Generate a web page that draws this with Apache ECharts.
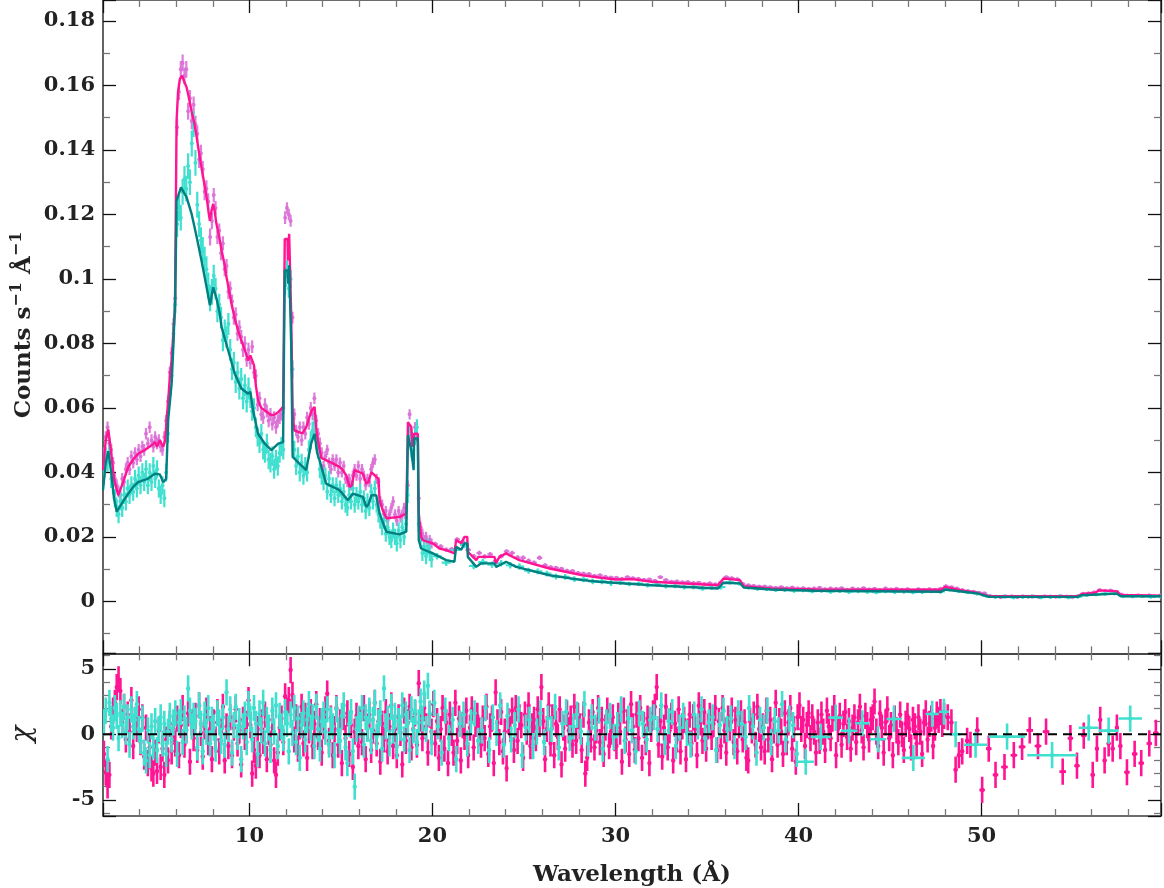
<!DOCTYPE html>
<html>
<head>
<meta charset="utf-8">
<script src="https://cdn.jsdelivr.net/npm/echarts@6/dist/echarts.min.js"></script>
<style>
  html, body { margin: 0; padding: 0; background: #fff; }
  #chart { width: 1164px; height: 888px; }
</style>
</head>
<body>
<div id="chart"></div>
<script>
// ---------------------------------------------------------------
// Spectrum data. Binned segments: [first bin centre (Å), bin width (Å), 1σ error, values]
// ---------------------------------------------------------------
const specPinkSegs = [
  [2.05, 0.1, 0.0018, [0.046,0.051,0.054,0.049,0.047,0.043,0.038,0.036,0.034,0.033,0.038,0.037,0.041,0.043,0.041,0.045,0.043,0.046,0.044,0.047]],
  [4.05, 0.1, 0.0018, [0.045,0.048,0.047,0.052,0.049,0.054,0.050,0.048,0.051,0.049,0.050,0.048,0.047,0.051,0.056,0.062,0.071,0.077,0.086,0.094]],
  [6.05, 0.1, 0.0026, [0.147,0.158,0.165,0.167,0.163,0.165,0.152,0.156,0.149,0.154,0.148,0.145,0.137,0.139,0.134,0.127,0.128,0.124,0.113,0.118]],
  [8.05, 0.1, 0.0022, [0.126,0.122,0.113,0.115,0.108,0.111,0.103,0.104,0.096,0.097,0.093,0.088,0.089,0.083,0.085,0.082,0.078,0.080,0.075,0.078]],
  [10.05, 0.1, 0.0020, [0.074,0.079,0.071,0.070,0.061,0.063,0.058,0.057,0.061,0.059,0.056,0.058,0.055,0.057,0.054,0.056,0.057,0.058,0.060,0.119]],
  [12.05, 0.1, 0.0018, [0.122,0.120,0.118,0.088,0.058,0.053,0.051,0.054,0.050,0.054,0.052,0.057,0.055,0.060,0.058,0.063,0.056,0.052,0.049,0.046]],
  [14.05, 0.1, 0.0016, [0.042,0.045,0.047,0.043,0.041,0.044,0.042,0.044,0.040,0.043,0.040,0.042,0.038,0.037,0.038,0.036,0.039,0.041,0.039,0.042]],
  [16.05, 0.1, 0.0016, [0.038,0.041,0.039,0.036,0.038,0.037,0.041,0.043,0.044,0.038,0.037,0.031,0.030,0.027,0.028,0.025,0.027,0.029,0.031,0.027]],
  [18.05, 0.1, 0.0016, [0.025,0.028,0.026,0.027,0.029,0.026,0.036,0.058,0.052,0.050,0.054,0.051,0.032,0.023,0.021,0.019,0.020,0.018,0.019,0.018]],
  [20.15, 0.3, 0.0007, [0.0178,0.0170,0.0160,0.0162,0.0192,0.0185,0.0160,0.0140,0.0150,0.0139]],
  [23.15, 0.3, 0.0007, [0.0146,0.0125,0.0140,0.0155,0.0150,0.0136,0.0135,0.0126,0.0120,0.0135]],
  [26.15, 0.3, 0.0006, [0.0112,0.0106,0.0104,0.0101,0.0095,0.0094,0.0088,0.0086,0.0085,0.0079]],
  [29.15, 0.3, 0.0005, [0.0081,0.0076,0.0074,0.0073,0.0070,0.0075,0.0072,0.0070,0.0067,0.0068]],
  [32.15, 0.3, 0.0005, [0.0064,0.0075,0.0066,0.0061,0.0062,0.0059,0.0060,0.0057,0.0058,0.0054]],
  [35.15, 0.3, 0.0005, [0.0056,0.0053,0.0058,0.0075,0.0072,0.0069,0.0054,0.0050,0.0048,0.0046]],
  [38.15, 0.3, 0.0005, [0.0046,0.0044,0.0042,0.0044,0.0041,0.0043,0.0040,0.0041,0.0039,0.0040]],
  [41.15, 0.3, 0.0005, [0.0042,0.0038,0.0040,0.0039,0.0041,0.0036,0.0040,0.0038,0.0041,0.0037]],
  [44.15, 0.3, 0.0005, [0.0039,0.0035,0.0040,0.0037,0.0039,0.0036,0.0038,0.0034,0.0038,0.0036]],
  [47.15, 0.3, 0.0005, [0.0038,0.0036,0.0039,0.0047,0.0044,0.0040,0.0035,0.0032,0.0030,0.0027]],
  [50.15, 0.3, 0.0004, [0.0025,0.0017,0.0014,0.0013,0.0015,0.0016,0.0013,0.0016,0.0014,0.0015]],
  [53.15, 0.3, 0.0004, [0.0013,0.0016,0.0015,0.0014,0.0016,0.0015,0.0013,0.0016,0.0024,0.0025]],
  [56.15, 0.3, 0.0004, [0.0028,0.0035,0.0033,0.0034,0.0030,0.0021,0.0018,0.0016,0.0019,0.0017]],
  [59.15, 0.3, 0.0004, [0.0019,0.0016,0.0018]]
];

const specTurqSegs = [
  [2.05, 0.1, 0.0028, [0.039,0.045,0.043,0.046,0.038,0.036,0.032,0.029,0.027,0.031,0.029,0.033,0.031,0.035,0.033,0.036,0.034,0.038,0.035,0.039]],
  [4.05, 0.1, 0.0028, [0.036,0.040,0.037,0.041,0.036,0.040,0.037,0.042,0.038,0.041,0.035,0.033,0.036,0.032,0.040,0.052,0.064,0.070,0.083,0.092]],
  [6.05, 0.1, 0.0040, [0.117,0.122,0.119,0.127,0.131,0.128,0.135,0.130,0.142,0.148,0.136,0.123,0.117,0.112,0.109,0.106,0.103,0.098,0.094,0.096]],
  [8.05, 0.1, 0.0034, [0.101,0.097,0.090,0.092,0.088,0.081,0.084,0.082,0.086,0.078,0.072,0.074,0.068,0.071,0.066,0.069,0.063,0.067,0.062,0.066]],
  [10.05, 0.1, 0.0030, [0.063,0.059,0.060,0.054,0.051,0.049,0.052,0.047,0.046,0.049,0.044,0.043,0.045,0.041,0.044,0.042,0.046,0.048,0.047,0.098]],
  [12.05, 0.1, 0.0028, [0.103,0.097,0.100,0.072,0.047,0.042,0.045,0.040,0.043,0.039,0.042,0.040,0.047,0.050,0.053,0.055,0.050,0.047,0.041,0.039]],
  [14.05, 0.1, 0.0025, [0.037,0.039,0.034,0.038,0.033,0.036,0.032,0.036,0.033,0.035,0.031,0.034,0.030,0.029,0.033,0.031,0.035,0.030,0.033,0.031]],
  [16.05, 0.1, 0.0025, [0.034,0.030,0.032,0.028,0.031,0.029,0.034,0.031,0.035,0.030,0.027,0.025,0.023,0.025,0.021,0.023,0.020,0.019,0.022,0.020]],
  [18.05, 0.1, 0.0025, [0.018,0.022,0.019,0.023,0.020,0.024,0.033,0.052,0.047,0.044,0.051,0.054,0.024,0.019,0.015,0.017,0.014,0.017,0.015,0.013]],
  [20.25, 0.5, 0.0010, [0.0140,0.0120,0.0160,0.0175,0.0110,0.0122,0.0114,0.0118,0.0112,0.0108]],
  [25.25, 0.5, 0.0009, [0.0095,0.0093,0.0086,0.0077,0.0076,0.0069,0.0068,0.0062,0.0062,0.0057]],
  [30.25, 0.5, 0.0007, [0.0058,0.0054,0.0055,0.0050,0.0052,0.0047,0.0048,0.0044,0.0045,0.0040]],
  [35.25, 0.5, 0.0007, [0.0042,0.0044,0.0059,0.0056,0.0044,0.0040,0.0039,0.0036,0.0036,0.0034]],
  [40.25, 0.5, 0.0007, [0.0035,0.0032,0.0034,0.0031,0.0033,0.0030,0.0032,0.0031,0.0029,0.0032]],
  [45.25, 0.5, 0.0007, [0.0030,0.0031,0.0029,0.0030,0.0032,0.0031,0.0038,0.0033,0.0029,0.0025]],
  [50.25, 0.5, 0.0006, [0.0018,0.0014,0.0015,0.0013,0.0014,0.0015,0.0013,0.0014,0.0015,0.0013]],
  [55.25, 0.5, 0.0006, [0.0015,0.0020,0.0022,0.0024,0.0025,0.0017,0.0016,0.0017,0.0015,0.0016]]
];

// Folded model curves: [wavelength (Å), counts s^-1 Å^-1]
const modelPink = [
  [2.0,0.0407],[2.15,0.050],[2.29,0.0533],[2.45,0.046],[2.6,0.038],[2.83,0.0329],[3.1,0.037],[3.38,0.0417],
  [3.65,0.044],[3.92,0.0458],[4.3,0.047],[4.65,0.0484],[4.83,0.0494],[4.95,0.048],[5.1,0.050],[5.2,0.0495],
  [5.29,0.0479],[5.4,0.050],[5.47,0.0561],[5.56,0.062],[5.65,0.0696],[5.75,0.075],[5.84,0.083],[5.93,0.090],
  [6.0,0.090],[6.02,0.149],[6.1,0.158],[6.2,0.162],[6.32,0.163],[6.45,0.161],[6.57,0.1594],[6.7,0.156],
  [6.84,0.152],[7.0,0.148],[7.12,0.1439],[7.25,0.139],[7.38,0.1346],[7.52,0.130],[7.66,0.1253],[7.76,0.121],
  [7.84,0.118],[7.92,0.121],[8.02,0.1233],[8.1,0.121],[8.2,0.117],[8.35,0.113],[8.48,0.1088],[8.62,0.105],
  [8.75,0.1005],[8.9,0.096],[9.02,0.0923],[9.2,0.0877],[9.38,0.084],[9.56,0.0809],[9.75,0.078],[9.93,0.0747],
  [10.05,0.0763],[10.15,0.076],[10.25,0.0732],[10.35,0.067],[10.47,0.0624],[10.65,0.060],[10.84,0.0592],
  [11.0,0.0585],[11.2,0.0577],[11.4,0.058],[11.57,0.0587],[11.84,0.0603],[11.92,0.0603],[11.93,0.1124],
  [12.08,0.1124],[12.1,0.1057],[12.15,0.1057],[12.17,0.114],[12.25,0.114],[12.28,0.0892],[12.33,0.0892],
  [12.36,0.059],[12.45,0.053],[12.7,0.0525],[12.9,0.0521],[13.1,0.054],[13.28,0.0572],[13.4,0.0592],
  [13.56,0.0603],[13.66,0.053],[13.74,0.050],[13.92,0.0445],[14.19,0.0438],[14.56,0.0428],[14.92,0.0417],
  [15.1,0.0407],[15.3,0.039],[15.47,0.0355],[15.6,0.036],[15.74,0.0407],[16.2,0.0396],[16.38,0.0365],
  [16.5,0.037],[16.66,0.0401],[16.93,0.0386],[17.05,0.038],[17.11,0.0314],[17.3,0.028],[17.48,0.0258],
  [18.2,0.0262],[18.57,0.0272],[18.65,0.0272],[18.66,0.0556],[18.84,0.0541],[18.9,0.0479],[18.98,0.0479],
  [19.0,0.052],[19.2,0.052],[19.25,0.0273],[19.38,0.020],[19.47,0.019],[20.02,0.018],[20.38,0.0164],
  [20.75,0.0159],[21.2,0.0149],[21.29,0.019],[21.57,0.018],[21.66,0.0175],[21.75,0.020],[21.9,0.020],
  [21.93,0.0154],[22.39,0.0128],[22.5,0.0138],[22.57,0.0143],[23.39,0.0138],[23.45,0.0118],[23.55,0.0118],
  [23.66,0.0138],[24.02,0.0149],[24.39,0.0138],[24.75,0.0128],[26.4,0.0102],[28.2,0.0081],[29.1,0.0074],
  [30.0,0.0068],[30.9,0.0069],[32.0,0.0061],[35.6,0.0050],[35.9,0.0071],[36.8,0.0066],[37.0,0.0047],
  [38.5,0.0040],[40.9,0.0037],[47.8,0.0036],[48.0,0.0045],[49.0,0.0033],[49.75,0.0027],[50.4,0.0016],
  [55.25,0.0016],[55.45,0.0022],[56.2,0.0027],[56.4,0.0034],[57.4,0.0031],[57.6,0.0020],[59.8,0.0018]
];

const modelTeal = [
  [2.0,0.0345],[2.15,0.043],[2.29,0.0466],[2.45,0.040],[2.6,0.032],[2.75,0.0278],[3.1,0.031],[3.38,0.0334],
  [3.65,0.0355],[3.92,0.037],[4.47,0.0381],[4.83,0.0396],[5.1,0.0394],[5.2,0.039],[5.29,0.037],[5.45,0.038],
  [5.56,0.0561],[5.75,0.0676],[5.85,0.080],[5.95,0.0954],[6.0,0.0954],[6.02,0.1243],[6.26,0.1284],
  [6.57,0.1253],[6.84,0.1202],[7.12,0.1129],[7.38,0.1057],[7.66,0.0974],[7.84,0.0918],[8.02,0.0974],
  [8.2,0.094],[8.38,0.0892],[8.48,0.085],[8.84,0.0778],[9.2,0.0706],[9.56,0.066],[9.93,0.0644],[10.05,0.065],
  [10.2,0.0592],[10.47,0.052],[10.84,0.0489],[11.2,0.0469],[11.57,0.0489],[11.84,0.0494],[11.92,0.0494],
  [11.93,0.1026],[12.08,0.1026],[12.1,0.0985],[12.15,0.0985],[12.17,0.1042],[12.25,0.1042],[12.28,0.080],
  [12.33,0.080],[12.36,0.0448],[12.73,0.0427],[13.1,0.0407],[13.37,0.0489],[13.56,0.052],[13.7,0.046],
  [13.83,0.0438],[14.19,0.0365],[14.92,0.0345],[15.38,0.0314],[15.65,0.0334],[16.2,0.0324],[16.38,0.0293],
  [16.5,0.030],[16.66,0.0329],[16.93,0.0329],[17.11,0.0272],[17.48,0.0216],[18.2,0.0208],[18.57,0.0216],
  [18.65,0.0216],[18.66,0.0515],[18.84,0.0469],[18.97,0.0407],[19.0,0.0505],[19.2,0.0505],[19.25,0.019],
  [19.38,0.0164],[20.02,0.0149],[20.75,0.0128],[21.2,0.0123],[21.29,0.0169],[21.57,0.016],[21.75,0.018],
  [21.9,0.018],[21.93,0.0138],[22.39,0.0107],[22.66,0.0118],[23.39,0.0118],[23.48,0.0107],[23.66,0.0112],
  [24.02,0.0123],[24.57,0.0107],[26.4,0.0081],[28.2,0.0066],[29.1,0.0061],[32.0,0.0050],[35.6,0.0040],
  [35.9,0.0058],[36.8,0.0056],[37.0,0.0043],[38.5,0.0037],[40.9,0.0033],[47.8,0.0030],[48.0,0.0037],
  [49.0,0.0030],[49.75,0.0025],[50.4,0.0014],[55.25,0.0014],[55.45,0.0019],[57.4,0.0024],[57.6,0.0016],
  [59.8,0.0016]
];

// Residuals (χ), binned segments: [first bin centre (Å), bin width (Å), error, values]
const residPinkSegs = [
  [2.05, 0.1, 1, [-1.5,-2.9,-3.9,-3.1,0.6,1.8,2.4,3.6,4.2,3.3,0.9,2.1,-0.4,1.5,0.2,2.6,-0.9,1.1,0.4,1.9]],
  [4.05, 0.1, 1, [-0.6,1.3,-1.7,0.5,-2.2,-1.0,-2.6,-3.0,-1.4,-2.8,0.3,-2.5,-1.1,-3.1,-0.4,-2.0,0.8,-1.3,0.4,-0.7]],
  [6.05, 0.1, 1, [1.2,-1.6,0.7,2.0,-0.8,0.3,1.6,-2.1,0.9,-0.3,1.4,-1.2,2.2,0.1,-1.7,0.6,1.8,-0.6,0.4,-1.9]],
  [8.05, 0.1, 1, [0.9,-0.4,1.7,-1.3,0.2,2.1,-2.0,0.6,-0.9,1.3,-1.6,0.5,1.9,-0.7,0.3,-2.3,1.1,-0.2,0.8,2.6]],
  [10.05, 0.1, 1, [0.7,-3.0,-1.2,-2.4,0.4,-1.6,0.9,-0.5,1.5,-1.9,0.2,-0.8,1.1,-2.0,-3.1,-1.4,0.5,1.2,-0.6,2.9]],
  [12.05, 0.1, 1, [1.8,2.6,4.9,3.0,-0.4,1.3,-1.1,0.6,2.1,-0.7,1.4,-1.8,0.3,1.7,-0.9,0.8,2.3,-0.2,1.0,-1.4]],
  [14.05, 0.1, 1, [0.6,1.9,3.1,-0.5,1.2,-1.6,0.4,2.0,-0.8,0.9,-2.2,1.3,-0.3,1.6,-1.5,0.7,-2.5,0.2,1.4,-0.9]],
  [16.05, 0.1, 1, [1.1,-0.6,2.0,-1.9,0.5,1.5,-1.2,0.3,2.4,-0.7,1.0,-2.1,0.8,-0.4,1.7,-1.3,0.6,2.2,-0.9,0.4]],
  [18.05, 0.1, 1, [-1.6,1.3,0.1,-2.3,1.8,-0.5,0.9,2.1,-1.0,0.4,1.6,-0.8,3.9,1.2,-0.3,2.0,0.6,-1.4,1.5,0.2]],
  [20.05, 0.1, 1, [2.3,-0.7,1.0,-1.8,0.4,2.0,-1.1,0.9,-2.2,1.5,0.1,-1.4,2.4,-0.5,1.2,-2.0,0.7,-0.2,1.8,-1.6]],
  [22.05, 0.1, 1, [0.5,1.9,-1.0,0.8,1.4,0.3,-0.8,1.2,-0.3,2.1,-1.5,0.6,1.2,-2.2,3.2,0.9,-0.6,1.7,-1.3,0.2]],
  [24.05, 0.1, 1, [-2.6,1.0,0.4,1.8,-1.2,2.0,-0.5,1.3,0.7,-1.8,1.5,0.2,2.2,-0.9,0.6,1.1,-0.3,1.9,0.8,3.6]],
  [26.05, 0.1, 1, [1.0,-1.9,0.4,2.2,-0.7,1.3,-1.6,0.8,-0.2,1.9,-2.3,0.5,-1.1,1.6,0.3,1.2,-0.8,2.1,-0.5,1.4]],
  [28.05, 0.1, 1, [0.6,-1.2,1.5,-3.0,-1.8,0.9,-0.4,1.7,-1.0,0.3,2.0,-0.6,1.1,-1.5,0.5,1.8,-0.9,0.2,1.3,-0.3]],
  [30.05, 0.1, 1, [-0.9,1.4,0.2,-2.1,1.8,-0.4,0.9,-1.5,2.3,0.6,-1.2,1.5,-0.3,2.0,-1.8,0.7,-0.6,1.2,-2.2,0.4]],
  [32.05, 0.1, 1, [1.6,2.1,3.6,-0.8,1.0,-1.7,0.5,2.1,-1.0,0.3,1.4,-2.0,0.8,-0.4,1.9,-1.3,0.6,1.1,-1.9,0.2]],
  [34.05, 0.1, 1, [1.5,-0.7,1.3,0.4,-1.6,2.2,0.9,-0.5,1.7,-1.1,0.6,1.4,-0.2,0.8,2.0,-1.2,1.0,-0.9,2.0,0.3]],
  [36.05, 0.1, 1, [-1.4,1.2,0.5,1.8,-0.6,1.1,-1.3,0.7,1.6,-0.4,0.9,-1.8,-2.0,1.0,0.3,1.5,-0.8,2.1,0.4,-1.0]],
  [38.05, 0.1, 1, [0.6,-1.3,1.8,-0.4,1.1,-1.9,0.3,2.4,-0.8,1.0,0.2,-1.5,1.6,-0.6,0.9,2.0,-1.1,0.4,-2.1,1.3]],
  [40.05, 0.1, 1, [2.2,0.4,1.1,-0.9,0.7,1.6,-0.3,1.3,0.2,-1.4,0.9,-0.5,1.5,0.2,-1.2,1.8,0.6,-0.3,1.2,2.0]],
  [42.05, 0.1, 1, [-1.6,0.4,1.4,-0.8,0.8,1.7,-0.2,1.0,-1.1,0.5,1.3,-0.6,0.9,2.1,0.3,-1.0,1.4,0.7,-0.4,1.1]],
  [44.05, 0.1, 1, [1.3,2.5,0.2,-0.9,1.6,0.5,-1.4,0.9,1.9,-0.3,0.7,-1.6,1.2,0.3,-0.6,1.5,0.0,-1.2,0.8,1.4]],
  [46.05, 0.1, 1, [0.4,-1.0,1.1,0.6,-0.7,1.3,0.2,-1.5,0.9,1.6,-0.4,0.8,1.2,-0.9,0.5,1.5,1.1,1.7,0.8,1.4]]
];
// Coarser bins beyond 48 Å: [centre (Å), χ, half bin width (Å)]
const residPinkWide = [
  [48.15,1.3,0.1],[48.35,0.9,0.1],[48.58,-2.7,0.1],[48.76,-1.6,0.1],[48.94,-1.3,0.1],[49.21,-0.5,0.12],
  [49.39,-0.8,0.12],[49.76,0.3,0.12],[50.03,-4.25,0.15],[50.39,-1.1,0.15],[50.76,-3.1,0.15],[51.25,-2.5,0.18],
  [51.76,-1.6,0.18],[52.21,-0.96,0.18],[52.63,0.3,0.18],[53.08,-0.9,0.18],[53.52,0.2,0.18],[54.43,-2.85,0.18],
  [54.85,-0.3,0.15],[55.21,-2.4,0.15],[55.58,-0.1,0.15],[56.07,-3.1,0.12],[56.3,-1.1,0.1],[56.48,1.1,0.1],
  [56.72,-2.0,0.1],[56.94,-0.7,0.1],[57.16,-1.1,0.1],[57.39,0.5,0.1],[57.58,-0.9,0.1],[57.94,-2.9,0.15],
  [58.36,-1.5,0.15],[58.72,-2.2,0.15],[59.16,-0.7,0.15],[59.52,0.1,0.15]
];

const residTurqSegs = [
  [2.05, 0.1, 1, [0.9,1.8,-1.9,2.4,1.2,0.5,2.0,1.4,-0.3,1.6,0.7,2.1,0.2,1.3,-0.8,1.9,0.6,1.1,2.3,0.4]],
  [4.05, 0.1, 1, [-0.5,1.2,-1.4,-2.0,0.3,-1.6,0.6,-0.9,1.0,-1.2,0.4,1.3,-0.7,0.8,-1.5,0.2,1.4,-0.4,0.9,1.6]],
  [6.05, 0.1, 1, [-1.5,0.9,1.7,-0.6,1.2,0.3,3.5,1.8,0.6,1.4,1.0,-1.0,2.2,0.8,-1.3,1.5,0.2,2.0,-0.7,1.1]],
  [8.05, 0.1, 1, [0.5,-1.1,1.6,0.9,-0.5,1.3,-0.8,3.2,0.4,1.9,-1.4,0.7,2.1,-0.2,1.0,-1.9,0.6,1.5,-0.6,2.3]],
  [10.05, 0.1, 1, [1.2,-0.4,2.0,0.8,-1.5,1.6,0.3,2.4,-0.7,1.1,0.5,-1.2,1.8,0.2,2.2,-0.9,1.4,0.6,-0.3,1.7]],
  [12.05, 0.1, 1, [0.8,-1.3,1.5,0.1,2.0,-0.6,1.2,-1.8,0.7,1.6,-0.4,1.1,2.3,0.5,1.3,-0.9,2.1,0.4,-1.1,1.0]],
  [14.05, 0.1, 1, [1.5,0.2,1.9,-0.8,1.1,0.6,-1.6,1.9,0.3,-0.5,1.4,2.2,-1.0,-2.2,0.8,1.7,-1.3,-4.0,0.4,1.2]],
  [16.05, 0.1, 1, [0.7,2.0,-0.8,1.3,0.4,1.8,-0.5,1.1,2.4,-0.2,0.9,1.6,-1.1,3.5,0.6,1.2,-0.7,2.1,0.3,1.4]],
  [18.05, 0.1, 1, [-0.9,1.0,0.5,2.2,-0.4,1.5,0.8,-1.2,1.9,0.3,1.7,-0.6,0.9,2.5,1.2,3.1,0.4,3.7,1.6,-0.6]],
  [20.1, 0.2, 1, [2.4,0.6,-1.4,1.8,-0.3,1.1,-1.9,0.8,1.5,-0.7]],
  [22.1, 0.2, 1, [0.9,1.6,-0.5,0.3,2.0,-1.2,1.3,0.1,2.2,-0.8]],
  [24.1, 0.2, 1, [1.4,-0.4,0.7,1.9,-1.6,0.5,1.1,-0.9,0.2,1.6]],
  [26.1, 0.2, 1, [-0.6,1.2,0.4,2.1,-1.0,0.8,1.7,-0.3,0.6,1.5]],
  [28.1, 0.2, 1, [0.2,2.3,-0.7,1.3,0.5,1.8,-1.1,0.9,1.4,-0.2]],
  [30.1, 0.2, 1, [0.7,1.9,-0.5,1.2,0.3,-1.3,1.6,0.8,-0.4,1.1]],
  [32.1, 0.2, 1, [1.3,0.4,2.2,-0.6,1.0,1.7,-0.9,0.5,1.4,0.1]],
  [34.1, 0.2, 1, [-0.8,1.5,0.6,1.9,-0.3,0.9,1.3,-1.2,0.7,1.8]],
  [36.1, 0.2, 1, [0.4,1.2,-0.9,1.6,0.8,-0.2,2.0,0.6,-1.4,1.1]],
  [38.1, 0.2, 1, [0.5,1.8,-0.6,1.0,0.3,2.3,-0.4,1.2,0.7,-1.5]]
];
const residTurqWide = [
  [40.39,-2.1,0.45],[41.21,-0.2,0.55],[42.03,1.27,0.4],[42.76,0.27,0.45],[43.48,0.84,0.4],[44.34,-0.38,0.45],
  [45.21,1.17,0.4],[46.27,-1.8,0.64],[47.3,1.55,0.36],[47.94,1.72,0.27],[48.58,0.0,0.27],[49.67,-0.8,0.64],
  [51.39,-0.18,1.0],[53.85,-1.6,1.36],[55.85,0.5,0.55],[56.94,0.28,0.55],[58.12,1.2,0.64]
];

// Axis tick labels
const xTickLabels = [10, 20, 30, 40, 50];
const yTickLabels = [0, 0.02, 0.04, 0.06, 0.08, 0.1, 0.12, 0.14, 0.16, 0.18];
const chiTickLabels = [-5, 0, 5];

// ---------------------------------------------------------------
// Build [x, y, err, halfWidth] rows
function fromSegments(segs) {
  const rows = [];
  segs.forEach(([x0, w, err, vals]) => {
    vals.forEach((v, i) => rows.push([x0 + i * w, v, err, w / 2]));
  });
  return rows;
}
function fromWide(list) {
  return list.map(([x, v, hw]) => [x, v, 1, hw]);
}

const FONT = 'DejaVu Serif';
const ORCHID = 'rgba(218,112,214,0.9)';
const TURQ = '#40E0D0';
const DEEPPINK = '#FF1493';
const TEAL = '#008080';

function errorBars(color, lw, r) {
  return function (params, api) {
    const x = api.value(0), y = api.value(1), e = api.value(2), h = api.value(3);
    const p = api.coord([x, y]);
    const pt = api.coord([x, y + e]);
    const pb = api.coord([x, y - e]);
    const pl = api.coord([x - h, y]);
    const pr = api.coord([x + h, y]);
    const st = { stroke: color, lineWidth: lw, fill: null };
    return {
      type: 'group',
      children: [
        { type: 'line', shape: { x1: p[0], y1: pt[1], x2: p[0], y2: pb[1] }, style: st },
        { type: 'line', shape: { x1: pl[0], y1: p[1], x2: pr[0], y2: p[1] }, style: st },
        { type: 'circle', shape: { cx: p[0], cy: p[1], r: r }, style: { fill: color } }
      ]
    };
  };
}

const frameLine = { show: true, onZero: false, lineStyle: { color: '#3c3c3c', width: 1.6 } };
const majorTick = { show: true, inside: true, length: 13, lineStyle: { color: '#111', width: 1.3 } };
const labelStyle = { fontFamily: FONT, fontWeight: 'bold', fontSize: 21, color: '#222' };

function near(v, list) { return list.some(t => Math.abs(v - t) < 1e-9); }

function xAxisDef(grid, pos, labels) {
  return {
    type: 'value', gridIndex: grid, position: pos, min: 2, max: 59.8, splitNumber: 5,
    axisLine: frameLine, splitLine: { show: false },
    axisTick: majorTick,
    minorTick: { show: true, splitNumber: 5, length: 7, lineStyle: { color: '#777', width: 1.3 } },
    axisLabel: labels ? Object.assign({ show: true, margin: 10,
      formatter: v => near(v, xTickLabels) ? String(Math.round(v)) : '' }, labelStyle) : { show: false },
    name: labels ? 'Wavelength (Å)' : '',
    nameLocation: 'middle', nameGap: 48,
    nameTextStyle: { fontFamily: FONT, fontWeight: 'bold', fontSize: 23, color: '#222' }
  };
}

function yTopDef(pos, labels) {
  return {
    type: 'value', gridIndex: 0, position: pos, min: -0.0161, max: 0.1865, splitNumber: 10,
    axisLine: frameLine, splitLine: { show: false },
    axisTick: majorTick,
    minorTick: { show: true, splitNumber: 2, length: 7, lineStyle: { color: '#777', width: 1.3 } },
    axisLabel: labels ? Object.assign({ show: true, margin: 8,
      formatter: v => near(v, yTickLabels) ? String(+v.toFixed(2)) : '' }, labelStyle) : { show: false }
  };
}

function yChiDef(pos, labels) {
  return {
    type: 'value', gridIndex: 1, position: pos, min: -6.24, max: 6.18, splitNumber: 3,
    axisLine: frameLine, splitLine: { show: false },
    axisTick: majorTick,
    minorTick: { show: true, splitNumber: 5, length: 7, lineStyle: { color: '#777', width: 1.3 } },
    axisLabel: labels ? Object.assign({ show: true, margin: 8,
      formatter: v => near(v, chiTickLabels) ? String(Math.round(v)) : '' }, labelStyle) : { show: false }
  };
}

const chart = echarts.init(document.getElementById('chart'), null, { renderer: 'canvas' });

chart.setOption({
  animation: false,
  backgroundColor: '#fff',
  grid: [
    { left: 103, right: 3, top: -1, height: 654.3 },
    { left: 103, right: 3, top: 653.3, height: 162.7 }
  ],
  xAxis: [
    xAxisDef(0, 'bottom', false),
    xAxisDef(0, 'top', false),
    xAxisDef(1, 'bottom', true),
    xAxisDef(1, 'top', false)
  ],
  yAxis: [
    yTopDef('left', true),
    yTopDef('right', false),
    yChiDef('left', true),
    yChiDef('right', false)
  ],
  graphic: [
    {
      type: 'text', x: 24, y: 325, rotation: Math.PI / 2,
      style: {
        text: '{a|Counts s}{b|−1}{a| Å}{b|−1}',
        align: 'center', verticalAlign: 'middle', fill: '#222',
        rich: {
          a: { fontFamily: FONT, fontWeight: 'bold', fontSize: 23, lineHeight: 30, fill: '#222' },
          b: { fontFamily: FONT, fontWeight: 'bold', fontSize: 16, lineHeight: 30, verticalAlign: 'top', fill: '#222' }
        }
      }
    },
    {
      type: 'text', x: 23, y: 734, rotation: Math.PI / 2,
      style: { text: 'χ', fontFamily: FONT, fontStyle: 'italic', fontSize: 28,
               align: 'center', verticalAlign: 'middle', fill: '#222' }
    }
  ],
  series: [
    {
      name: 'data A', type: 'custom', xAxisIndex: 0, yAxisIndex: 0, clip: true, z: 2,
      dimensions: ['x', 'y', 'err', 'hw'], encode: { x: 0, y: 1 },
      renderItem: errorBars(ORCHID, 2.2, 2), data: fromSegments(specPinkSegs)
    },
    {
      name: 'data B', type: 'custom', xAxisIndex: 0, yAxisIndex: 0, clip: true, z: 3,
      dimensions: ['x', 'y', 'err', 'hw'], encode: { x: 0, y: 1 },
      renderItem: errorBars(TURQ, 2.2, 2), data: fromSegments(specTurqSegs)
    },
    {
      name: 'model A', type: 'line', xAxisIndex: 0, yAxisIndex: 0, z: 4,
      showSymbol: false, symbol: 'none', data: modelPink,
      lineStyle: { color: DEEPPINK, width: 2.4 }
    },
    {
      name: 'model B', type: 'line', xAxisIndex: 0, yAxisIndex: 0, z: 5,
      showSymbol: false, symbol: 'none', data: modelTeal,
      lineStyle: { color: TEAL, width: 2.4 }
    },
    {
      name: 'chi A', type: 'custom', xAxisIndex: 2, yAxisIndex: 2, clip: true, z: 2,
      dimensions: ['x', 'y', 'err', 'hw'], encode: { x: 0, y: 1 },
      renderItem: errorBars(DEEPPINK, 2.6, 2.2),
      data: fromSegments(residPinkSegs).concat(fromWide(residPinkWide))
    },
    {
      name: 'chi B', type: 'custom', xAxisIndex: 2, yAxisIndex: 2, clip: true, z: 3,
      dimensions: ['x', 'y', 'err', 'hw'], encode: { x: 0, y: 1 },
      renderItem: errorBars(TURQ, 2.6, 2.2),
      data: fromSegments(residTurqSegs).concat(fromWide(residTurqWide))
    },
    {
      name: 'zero', type: 'line', xAxisIndex: 2, yAxisIndex: 2, z: 6,
      showSymbol: false, symbol: 'none', data: [[2, 0], [59.8, 0]],
      lineStyle: { color: '#000', width: 2, type: [9, 6] }
    }
  ]
});
</script>
</body>
</html>
